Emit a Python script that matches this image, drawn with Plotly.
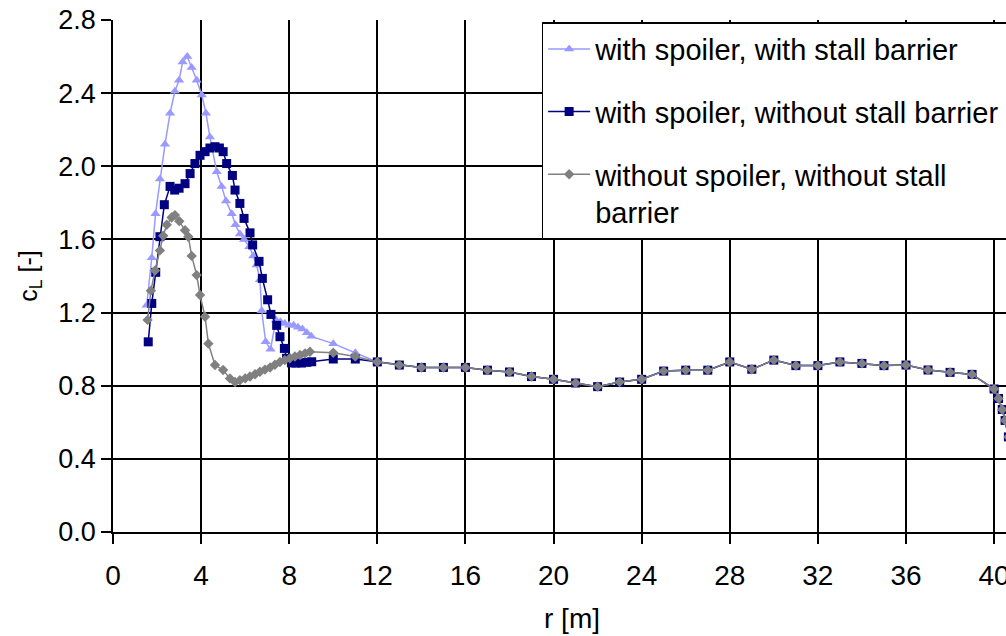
import plotly.graph_objects as go

# Lift coefficient along the blade radius for three rotor configurations.

# with spoiler, with stall barrier (root region)
r_spoiler_barrier = [1.53, 1.76, 1.93, 2.13, 2.36, 2.59, 2.81, 3.00, 3.16, 3.37, 3.57, 3.80,
                     4.03, 4.22, 4.40, 4.71, 4.93, 5.13, 5.39, 5.56, 5.76, 5.95, 6.19, 6.37,
                     6.52, 6.67, 6.75, 6.93, 7.15, 7.40, 7.60, 7.80, 8.00, 8.20, 8.40, 8.60,
                     8.80, 9.00, 10.0, 11.0]
cl_spoiler_barrier = [1.24, 1.50, 1.74, 1.93, 2.12, 2.29, 2.41, 2.47, 2.57, 2.60, 2.54, 2.47,
                      2.39, 2.29, 2.16, 1.97, 1.89, 1.81, 1.74, 1.68, 1.63, 1.60, 1.56, 1.51,
                      1.46, 1.38, 1.21, 1.04, 1.00, 1.16, 1.15, 1.14, 1.13, 1.13, 1.12, 1.11,
                      1.09, 1.07, 1.03, 0.98]

# with spoiler, without stall barrier (root region)
r_spoiler = [1.60, 1.76, 1.94, 2.13, 2.33, 2.59, 2.80, 3.00, 3.27, 3.50, 3.72, 3.95, 4.18,
             4.40, 4.63, 4.83, 5.00, 5.16, 5.42, 5.54, 5.76, 5.95, 6.22, 6.34, 6.63, 6.78,
             7.02, 7.17, 7.43, 7.58, 7.78, 7.88, 8.10, 8.30, 8.56, 8.80, 9.02, 10.0, 11.0]
cl_spoiler = [1.04, 1.25, 1.42, 1.615, 1.79, 1.89, 1.87, 1.88, 1.905, 1.96, 2.015, 2.06, 2.08,
              2.10, 2.107, 2.10, 2.08, 2.015, 1.95, 1.87, 1.797, 1.715, 1.636, 1.57, 1.48, 1.387,
              1.27, 1.19, 1.13, 1.068, 1.004, 0.95, 0.925, 0.924, 0.924, 0.928, 0.931, 0.946, 0.946]

# without spoiler, without stall barrier (root region)
r_plain = [1.57, 1.72, 1.91, 2.13, 2.28, 2.44, 2.66, 2.81, 3.01, 3.27, 3.42, 3.57, 3.80,
           3.95, 4.18, 4.33, 4.63, 5.00, 5.31, 5.54, 5.76, 6.00, 6.22, 6.45, 6.67, 6.90,
           7.13, 7.35, 7.58, 7.80, 8.03, 8.26, 8.49, 8.72, 8.94, 10.0, 11.0]
cl_plain = [1.16, 1.32, 1.43, 1.54, 1.62, 1.68, 1.72, 1.733, 1.70, 1.65, 1.615, 1.51, 1.405,
            1.296, 1.177, 1.03, 0.913, 0.886, 0.84, 0.82, 0.83, 0.84, 0.85, 0.863, 0.876, 0.888,
            0.90, 0.915, 0.93, 0.94, 0.95, 0.96, 0.968, 0.977, 0.986, 0.98, 0.96]

# outer blade, identical for all configurations
r_outer = [12, 13, 14, 15, 16, 17, 18, 19, 20, 21, 22, 23, 24, 25, 26, 27, 28, 29, 30,
           31, 32, 33, 34, 35, 36, 37, 38, 39, 40, 40.2, 40.37, 40.5, 40.65]
cl_outer = [0.93, 0.913, 0.90, 0.90, 0.90, 0.885, 0.875, 0.85, 0.835, 0.815, 0.795, 0.82,
            0.835, 0.88, 0.885, 0.885, 0.93, 0.89, 0.94, 0.91, 0.91, 0.93, 0.922, 0.91,
            0.913, 0.886, 0.873, 0.862, 0.782, 0.73, 0.67, 0.61, 0.52]

x_ticks = [0, 4, 8, 12, 16, 20, 24, 28, 32, 36, 40]
y_ticks = [0.0, 0.4, 0.8, 1.2, 1.6, 2.0, 2.4, 2.8]

FONT = "Liberation Sans, Arial, sans-serif"
NBSP = "\u00a0"

fig = go.Figure()

fig.add_trace(go.Scatter(
    x=r_spoiler_barrier + r_outer, y=cl_spoiler_barrier + cl_outer,
    mode="lines+markers", name="with spoiler, with stall barrier",
    legendgroup="a",
    line=dict(color="#9999FF", width=1.5),
    marker=dict(symbol="triangle-up", size=9, color="#9999FF"),
))
fig.add_trace(go.Scatter(
    x=r_spoiler + r_outer, y=cl_spoiler + cl_outer,
    mode="lines+markers",
    # trailing padding lets the legend box run past the right edge
    name="with spoiler, without stall barrier" + NBSP * 5,
    legendgroup="b",
    line=dict(color="#000080", width=1.5),
    marker=dict(symbol="square", size=9, color="#000080"),
))
fig.add_trace(go.Scatter(
    x=r_plain + r_outer, y=cl_plain + cl_outer,
    mode="lines+markers", name="without spoiler, without stall<br>barrier",
    legendgroup="c",
    line=dict(color="#808080", width=1.5),
    marker=dict(symbol="diamond", size=8, color="#808080"),
))

fig.update_layout(
    width=1006, height=636,
    margin=dict(l=113, r=0, t=20, b=104, autoexpand=False),
    paper_bgcolor="white", plot_bgcolor="white",
    font=dict(family=FONT, size=27, color="black"),
    showlegend=True,
    legend=dict(
        x=0.48, y=0.996, xanchor="left", yanchor="top",
        bgcolor="white", bordercolor="black", borderwidth=1.5,
        font=dict(size=29), valign="top", itemwidth=42,
        traceorder="grouped", tracegroupgap=22,
    ),
    xaxis=dict(
        range=[0, 40.54], tickvals=x_ticks, ticktext=[str(v) for v in x_ticks],
        showgrid=True, gridcolor="black", gridwidth=1.5,
        showline=True, linecolor="black", linewidth=1.5,
        ticks="outside", ticklen=10, tickcolor="black", tickwidth=1.5,
        ticklabeloverflow="allow", ticklabelstandoff=8,
        tickfont=dict(size=28),
        zeroline=False,
    ),
    yaxis=dict(
        range=[0, 2.8], tickvals=y_ticks, ticktext=[f"{v:.1f}" for v in y_ticks],
        showgrid=True, gridcolor="black", gridwidth=1.5,
        showline=True, linecolor="black", linewidth=1.5,
        ticks="outside", ticklen=10, tickcolor="black", tickwidth=1.5,
        zeroline=False,
        title=dict(text="c<sub>L</sub> [-]", standoff=14, font=dict(size=25)),
    ),
    annotations=[dict(
        text="r [m]", xref="paper", yref="paper", x=0.514, y=0,
        xanchor="center", yanchor="middle", yshift=-86, showarrow=False,
        font=dict(size=28),
    )],
)

fig.write_html("out.html")
